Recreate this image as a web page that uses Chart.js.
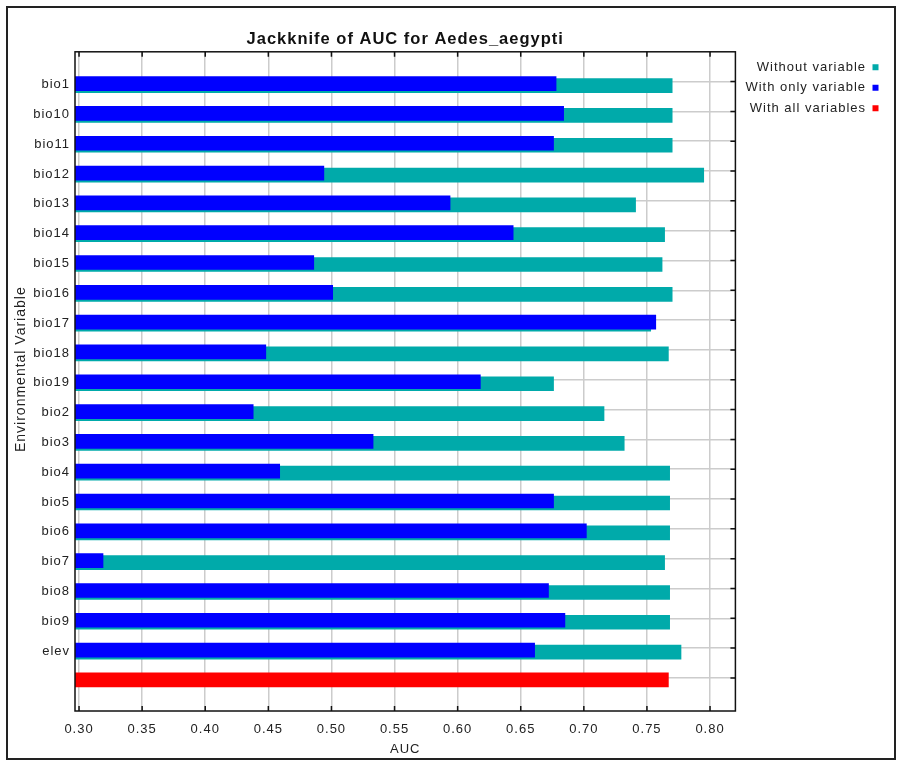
<!DOCTYPE html>
<html>
<head>
<meta charset="utf-8">
<script src="https://cdn.jsdelivr.net/npm/chart.js@4.4.1/dist/chart.umd.min.js"></script>
<style>
body{margin:0;background:#fff;}
#wrap{position:relative;width:899px;height:761px;}
#frame{position:absolute;left:6px;top:6px;width:890px;height:754px;box-sizing:border-box;border:2px solid #222;pointer-events:none;}
</style>
</head>
<body>
<div id="wrap"><canvas id="jk" width="899" height="761"></canvas><div id="frame"></div></div>
<script>
// jackknife results
const variables=["bio1","bio10","bio11","bio12","bio13","bio14","bio15","bio16","bio17","bio18","bio19","bio2","bio3","bio4","bio5","bio6","bio7","bio8","bio9","elev"];
const withoutVar=[0.770,0.770,0.770,0.795,0.741,0.764,0.762,0.770,0.753,0.767,0.676,0.716,0.732,0.768,0.768,0.768,0.764,0.768,0.768,0.777];
const onlyVar=[0.678,0.684,0.676,0.494,0.594,0.644,0.486,0.501,0.757,0.448,0.618,0.438,0.533,0.459,0.676,0.702,0.319,0.672,0.685,0.661];
const allVars=[0.767];
const aucTicks=[0.30,0.35,0.40,0.45,0.50,0.55,0.60,0.65,0.70,0.75,0.80];

// last row holds the "all variables" bar, no label
const rowLabels=variables.concat([""]);

Chart.defaults.font.family="'Liberation Sans', Arial, sans-serif";
Chart.defaults.font.size=13;
Chart.defaults.color="#222";

function spacing(chart){
chart.ctx.letterSpacing="1px";
}

const frameTicks={
id:"frameTicks",
beforeLayout(chart){spacing(chart);},
beforeDraw(chart){spacing(chart);},
beforeDatasetDraw(chart,args){
let s=chart.data.datasets[args.index].shiftY||0;
chart.ctx.save();
chart.ctx.translate(0,s);
},
afterDatasetDraw(chart){
chart.ctx.restore();
},
afterDraw(chart){
const ctx=chart.ctx;
const a=chart.chartArea;
const x=chart.scales.x;
const y=chart.scales.y;
ctx.save();
ctx.strokeStyle="#111";
ctx.lineWidth=1.5;
ctx.strokeRect(a.left,a.top,a.right-a.left,a.bottom-a.top);
ctx.beginPath();
x.ticks.forEach(t=>{
let px=x.getPixelForValue(t.value);
ctx.moveTo(px,a.top);ctx.lineTo(px,a.top+5);
ctx.moveTo(px,a.bottom);ctx.lineTo(px,a.bottom-5);
});
y.ticks.forEach(t=>{
let py=y.getPixelForValue(t.value);
ctx.moveTo(a.right,py);ctx.lineTo(a.right-5,py);
});
ctx.stroke();
ctx.restore();
}
};

const rowOf=(vals,start)=>vals.map((v,i)=>({x:v,y:start+i}));

new Chart(document.getElementById("jk"),{
type:"bar",
data:{
datasets:[{
label:"Without variable",
data:rowOf(withoutVar,0),
backgroundColor:"#00aaaa",
borderWidth:0,
shiftY:4,
order:2
},{
label:"With only variable",
data:rowOf(onlyVar,0),
backgroundColor:"#0000ff",
borderWidth:0,
shiftY:2,
order:1
},{
label:"With all variables",
data:rowOf(allVars,variables.length),
backgroundColor:"#ff0000",
borderWidth:0,
shiftY:2,
order:0
}]
},
options:{
responsive:false,
animation:false,
indexAxis:"y",
layout:{padding:{right:13,bottom:0}},
datasets:{bar:{barThickness:14,grouped:false}},
scales:{
x:{
type:"linear",
min:0.2968,
max:0.8201,
afterBuildTicks(s){s.ticks=aucTicks.map(v=>({value:v}));},
afterFit(s){s.height=50;},
grid:{color:"#cccccc",lineWidth:1.5,drawTicks:false},
border:{display:false},
ticks:{padding:12,font:{lineHeight:1},callback:v=>v.toFixed(2)},
title:{display:true,text:"AUC",padding:{top:0,bottom:4}}
},
y:{
type:"linear",
reverse:true,
offset:false,
min:-1,
max:21.11,
afterBuildTicks(s){s.ticks=rowLabels.map((l,i)=>({value:i}));},
afterFit(s){s.width=75;},
grid:{color:"#cccccc",lineWidth:1.5,drawTicks:false,offset:false},
border:{display:false},
ticks:{padding:5,labelOffset:3,autoSkip:false,callback:v=>rowLabels[v]},
title:{display:true,text:"     Environmental Variable",font:{size:14},padding:{top:13,bottom:0}}
}
},
plugins:{
title:{display:true,text:"Jackknife of AUC for Aedes_aegypti",fullSize:false,font:{size:16.5,weight:"bold"},color:"#111",padding:{top:30,bottom:2}},
legend:{
position:"right",
align:"start",
rtl:true,
title:{display:true,text:" ",font:{size:1},padding:{top:0,bottom:52}},
labels:{boxWidth:6,boxHeight:6,padding:7.5,sort:(a,b)=>a.datasetIndex-b.datasetIndex}
},
tooltip:{enabled:false}
}
},
plugins:[frameTicks]
});
</script>
</body>
</html>
